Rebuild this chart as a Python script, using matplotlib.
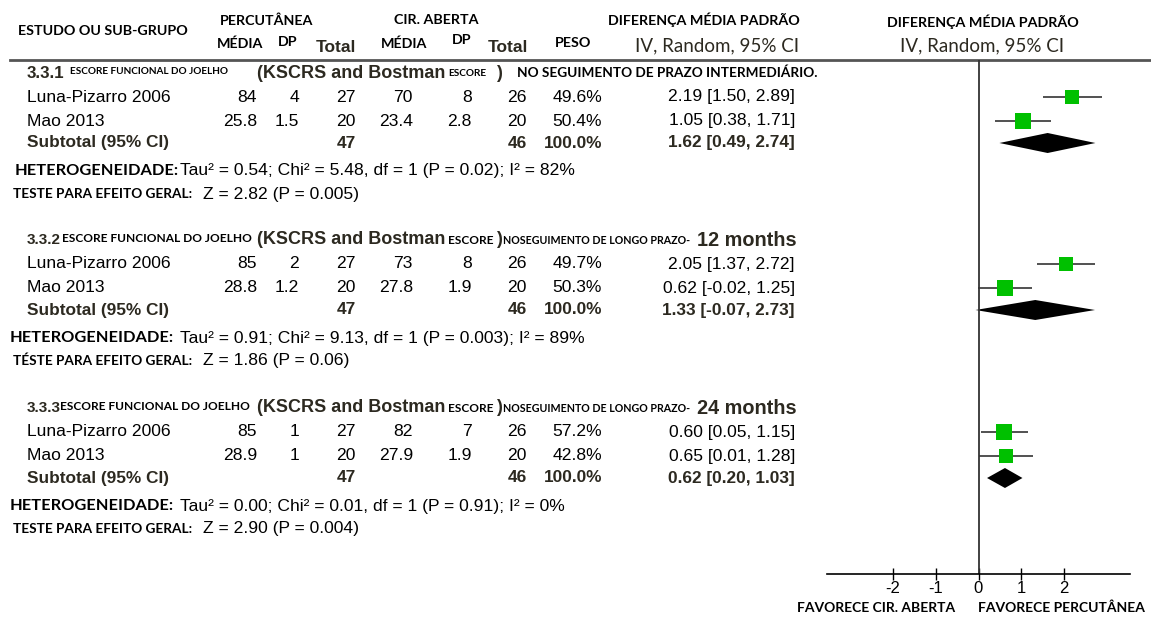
import numpy as np
import matplotlib
matplotlib.use("Agg")
import matplotlib.pyplot as plt

plt.rcParams['axes.unicode_minus'] = False

# dados dos subgrupos (diferença média padronizada, IV, random)
estudos = ["Luna-Pizarro 2006", "Mao 2013"]
perc_media = [[84, 25.8], [85, 28.8], [85, 28.9]]
perc_dp = [[4, 1.5], [2, 1.2], [1, 1]]
perc_n = [[27, 20], [27, 20], [27, 20]]
cir_media = [[70, 23.4], [73, 27.8], [82, 27.9]]
cir_dp = [[8, 2.8], [8, 1.9], [7, 1.9]]
cir_n = [[26, 20], [26, 20], [26, 20]]
peso = [[49.6, 50.4], [49.7, 50.3], [57.2, 42.8]]
dmp = [[2.19, 1.05], [2.05, 0.62], [0.60, 0.65]]
dmp_inf = [[1.50, 0.38], [1.37, -0.02], [0.05, 0.01]]
dmp_sup = [[2.89, 1.71], [2.72, 1.25], [1.15, 1.28]]
sub_est = [1.62, 1.33, 0.62]
sub_inf = [0.49, -0.07, 0.20]
sub_sup = [2.74, 2.73, 1.03]
tau2 = ["0.54", "0.91", "0.00"]
chi2 = ["5.48", "9.13", "0.01"]
p_het = ["0.02", "0.003", "0.91"]
i2 = ["82", "89", "0"]
z_val = ["2.82", "1.86", "2.90"]
p_z = ["0.005", "0.06", "0.004"]
rotulo_sub = ["3.3.1", "3.3.2", "3.3.3"]
seguimento = ["NO SEGUIMENTO DE PRAZO INTERMEDIÁRIO.", "NOSEGUIMENTO DE LONGO PRAZO-",
              "NOSEGUIMENTO DE LONGO PRAZO-"]
meses = ["", "12 months", "24 months"]
teste_txt = ["TESTE PARA EFEITO GERAL:", "TÉSTE PARA EFEITO GERAL:", "TESTE PARA EFEITO GERAL:"]
xticks = [-2, -1, 0, 1, 2]

W, H = 1151, 617
ARIAL = ["Liberation Sans", "DejaVu Sans"]
CALIBRI = ["Lato", "DejaVu Sans"]
ESCURO = "#2c2920"

fig = plt.figure(figsize=(W / 100, H / 100), dpi=100)
tx = fig.add_axes([0, 0, 1, 1])
tx.set_xlim(0, W)
tx.set_ylim(H, 0)
tx.axis("off")


def t(x, y, s, ha="left", size=12.6, fam=ARIAL, bold=False, color="black"):
    tx.text(x, y, s, ha=ha, va="center", fontsize=size, family=fam,
            fontweight="bold" if bold else "normal", color=color)


# cabeçalho
t(18, 31, "ESTUDO OU SUB-GRUPO", size=10.3, fam=CALIBRI, bold=True)
t(267, 21, "PERCUTÂNEA", ha="center", size=10.3, fam=CALIBRI, bold=True)
t(240, 44, "MÉDIA", ha="center", size=10.3, fam=CALIBRI, bold=True)
t(288, 42, "DP", ha="center", size=10.3, fam=CALIBRI, bold=True)
t(336, 47, "Total", ha="center", size=12.5, fam=ARIAL, bold=True, color=ESCURO)
t(436, 20, "CIR. ABERTA", ha="center", size=10.3, fam=CALIBRI, bold=True)
t(404, 44, "MÉDIA", ha="center", size=10.3, fam=CALIBRI, bold=True)
t(462, 40, "DP", ha="center", size=10.3, fam=CALIBRI, bold=True)
t(508, 47, "Total", ha="center", size=12.5, fam=ARIAL, bold=True, color=ESCURO)
t(573, 43, "PESO", ha="center", size=10.3, fam=CALIBRI, bold=True)
t(704, 20, "DIFERENÇA MÉDIA PADRÃO", ha="center", size=10.3, fam=CALIBRI, bold=True)
t(717, 46, "IV, Random, 95% CI", ha="center", size=13.5, fam=CALIBRI, color=ESCURO)
t(983, 22, "DIFERENÇA MÉDIA PADRÃO", ha="center", size=10.3, fam=CALIBRI, bold=True)
t(982, 46, "IV, Random, 95% CI", ha="center", size=13.5, fam=CALIBRI, color=ESCURO)
tx.plot([10, W], [60, 60], color="#555555", lw=2)

# posições verticais das linhas de cada subgrupo
topo = [73, 240, 408]
rot_size = [12.2, 11, 11]
esc_x = [70, 62, 60]
esc_size = [7.2, 8.6, 8.6]
seg_x = [517, 503, 503]
seg_size = [9.8, 7.7, 7.7]

# eixo do gráfico de floresta, alinhado às linhas da tabela
fx = fig.add_axes([827 / W, (H - 574) / H, 303 / W, (574 - 60) / H])
fx.set_xlim(-3.55, 3.55)
fx.set_ylim(574, 60)
fx.patch.set_alpha(0)
for s in ["top", "right", "left"]:
    fx.spines[s].set_visible(False)
fx.spines["bottom"].set_linewidth(1.2)
fx.set_yticks([])
fx.set_xticks(xticks)
fx.set_xticklabels([str(v) for v in xticks], family=ARIAL, fontsize=12)
fx.tick_params(axis="x", direction="inout", length=8, width=1, pad=1)
fx.axvline(0, color="#333333", lw=1.3)

for g in range(3):
    y0 = topo[g]
    t(27, y0, rotulo_sub[g], size=rot_size[g], bold=True, color=ESCURO)
    t(esc_x[g], y0 - 1, "ESCORE FUNCIONAL DO JOELHO", size=esc_size[g], fam=CALIBRI, bold=True)
    t(257, y0, "(KSCRS and Bostman", size=13, bold=True, color=ESCURO)
    t(448, y0 + 1, "ESCORE", size=esc_size[g], fam=CALIBRI, bold=True)
    t(496, y0, ")", size=13, bold=True, color=ESCURO)
    t(seg_x[g], y0, seguimento[g], size=seg_size[g], fam=CALIBRI, bold=True)
    if meses[g]:
        t(797, y0, meses[g], ha="right", size=14.3, bold=True, color=ESCURO)

    for i, nome in enumerate(estudos):
        y = y0 + 24 + 24 * i
        t(27, y, nome)
        t(257, y, f"{perc_media[g][i]:g}", ha="right")
        t(299, y, f"{perc_dp[g][i]:g}", ha="right")
        t(356, y, f"{perc_n[g][i]}", ha="right")
        t(413, y, f"{cir_media[g][i]:g}", ha="right")
        t(472, y, f"{cir_dp[g][i]:g}", ha="right")
        t(527, y, f"{cir_n[g][i]}", ha="right")
        t(602, y, f"{peso[g][i]:.1f}%", ha="right")
        t(795, y, f"{dmp[g][i]:.2f} [{dmp_inf[g][i]:.2f}, {dmp_sup[g][i]:.2f}]", ha="right")
        fx.hlines(y, dmp_inf[g][i], dmp_sup[g][i], color="#333333", lw=1.2)
        fx.plot(dmp[g][i], y, marker="s", ms=1.53 * np.sqrt(peso[g][i]),
                color="#00c000", mec="#00c000", mew=0)

    ys = y0 + 70
    t(27, ys, "Subtotal (95% CI)", bold=True, color=ESCURO, size=12.4)
    t(356, ys, f"{sum(perc_n[g])}", ha="right", bold=True, color=ESCURO, size=12.4)
    t(527, ys, f"{sum(cir_n[g])}", ha="right", bold=True, color=ESCURO, size=12.4)
    t(602, ys, f"{sum(peso[g]):.1f}%", ha="right", bold=True, color=ESCURO, size=12.4)
    t(795, ys, f"{sub_est[g]:.2f} [{sub_inf[g]:.2f}, {sub_sup[g]:.2f}]", ha="right",
      bold=True, color=ESCURO, size=12.4)
    fx.fill([sub_inf[g], sub_est[g], sub_sup[g], sub_est[g]], [ys, ys - 10, ys, ys + 10],
            color="black", lw=0)

    yh = y0 + 98
    t(15 if g == 0 else 10, yh, "HETEROGENEIDADE:", size=11.8, fam=CALIBRI, bold=True)
    t(180, yh, f"Tau² = {tau2[g]}; Chi² = {chi2[g]}, df = 1 (P = {p_het[g]}); I² = {i2[g]}%")
    yt = y0 + 121
    t(13, yt, teste_txt[g], size=9.8, fam=CALIBRI, bold=True)
    t(203, yt, f"Z = {z_val[g]} (P = {p_z[g]})")

t(955, 608, "FAVORECE CIR. ABERTA", ha="right", size=10, fam=CALIBRI, bold=True)
t(978, 608, "FAVORECE PERCUTÂNEA", size=10, fam=CALIBRI, bold=True)

fig.savefig("out.png", dpi=100)
